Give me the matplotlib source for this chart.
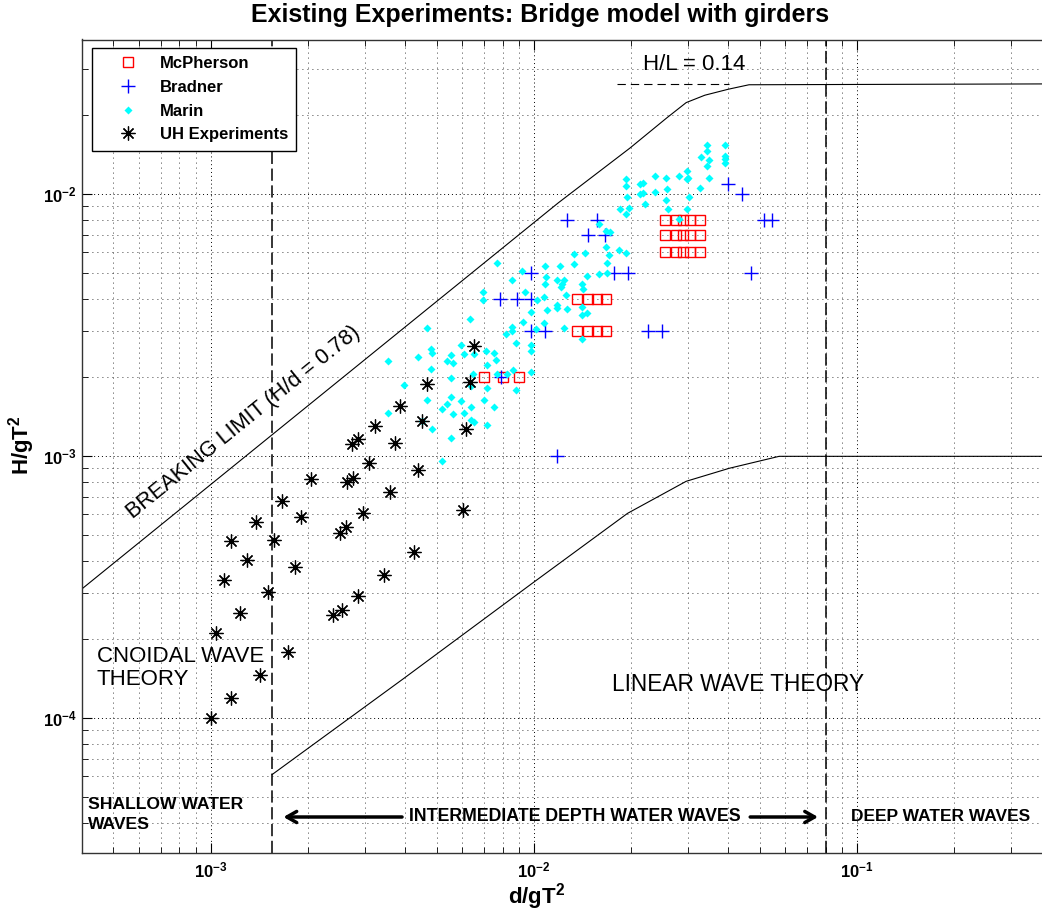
import math
import matplotlib
matplotlib.use('Agg')
import matplotlib.pyplot as plt
from matplotlib.ticker import FuncFormatter, NullFormatter, LogLocator

plt.rcParams['font.family'] = ['Liberation Sans', 'DejaVu Sans']
plt.rcParams['mathtext.fontset'] = 'custom'
plt.rcParams['mathtext.rm'] = 'Liberation Sans'
plt.rcParams['mathtext.bf'] = 'Liberation Sans:bold'
plt.rcParams['mathtext.it'] = 'Liberation Sans:italic'

# Breaking limit (H/d = 0.78 in shallow water, levelling off at H/L = 0.14)
break_x = [4e-4, 0.0119, 0.0198, 0.0258, 0.0296, 0.0338, 0.040, 0.0463, 0.4]
break_y = [3.12e-4, 9.28e-3, 0.0150, 0.0196, 0.0224, 0.0239, 0.0252, 0.0262, 0.0264]

# Lower bound of the linear wave theory region
linear_x = [1.55e-3, 3.96e-3, 9.8e-3, 0.0195, 0.0296, 0.0402, 0.0574, 0.4]
linear_y = [6.1e-5, 1.42e-4, 3.25e-4, 6.06e-4, 8.03e-4, 9.0e-4, 1.0e-3, 1.0e-3]

# Water depth limits (d/gT^2)
shallow_limit = 0.00155
deep_limit = 0.08

mcpherson_x = [7e-3, 8e-3, 9e-3,
               0.0136, 0.0147, 0.0157, 0.0167,
               0.0136, 0.0147, 0.0157, 0.0167,
               0.0255, 0.0275, 0.029, 0.0305, 0.0327,
               0.0255, 0.0275, 0.029, 0.0305, 0.0327,
               0.0255, 0.0275, 0.029, 0.0305, 0.0327]
mcpherson_y = [2e-3, 2e-3, 2e-3,
               4e-3, 4e-3, 4e-3, 4e-3,
               3e-3, 3e-3, 3e-3, 3e-3,
               6e-3, 6e-3, 6e-3, 6e-3, 6e-3,
               7e-3, 7e-3, 7e-3, 7e-3, 7e-3,
               8e-3, 8e-3, 8e-3, 8e-3, 8e-3]

bradner_x = [0.0399, 0.0441, 0.0127, 0.0157, 0.0515, 0.0546, 0.0147, 0.0166,
             9.8e-3, 0.0177, 0.0195, 0.0470, 7.85e-3, 8.86e-3, 9.8e-3,
             9.8e-3, 0.0108, 0.0225, 0.0249, 7.9e-3, 0.0118]
bradner_y = [0.011, 0.010, 8e-3, 8e-3, 8e-3, 8e-3, 7e-3, 7e-3,
             5e-3, 5e-3, 5e-3, 5e-3, 4e-3, 4e-3, 4e-3,
             3e-3, 3e-3, 3e-3, 3e-3, 2e-3, 1e-3]

marin_x = [
    3.53e-3, 4.37e-3, 4.80e-3, 4.83e-3, 4.80e-3, 5.38e-3, 5.53e-3, 5.61e-3, 5.94e-3, 6.07e-3,
    5.53e-3, 3.96e-3, 4.67e-3, 4.67e-3, 3.53e-3, 5.53e-3, 5.19e-3, 5.38e-3, 5.94e-3, 5.61e-3,
    6.07e-3, 4.83e-3, 5.53e-3, 5.19e-3, 4.50e-3, 6.34e-3,
    6.52e-3, 7.10e-3, 7.52e-3, 7.15e-3, 7.63e-3, 7.68e-3, 8.25e-3, 8.61e-3, 8.79e-3, 8.19e-3,
    8.55e-3, 9.25e-3, 6.47e-3, 7.15e-3, 8.79e-3, 6.38e-3, 7.00e-3, 7.52e-3, 6.38e-3, 6.52e-3,
    7.15e-3, 6.38e-3, 6.95e-3, 6.95e-3, 7.68e-3, 8.55e-3, 9.18e-3, 9.38e-3, 8.55e-3, 0.01014,
    0.01074, 9.79e-3, 0.01178, 9.79e-3, 9.79e-3, 9.79e-3, 0.01021, 0.01082, 0.01089, 0.01203,
    0.01330, 0.01439, 0.01330, 0.01082, 0.01178, 0.01239, 0.01222, 0.01213, 0.01409, 0.01419,
    0.01256, 0.01074, 0.01178, 0.01265, 0.01097, 0.01409, 0.01459, 0.01409, 0.01239, 0.01409,
    0.01589, 0.01459, 0.01683, 0.01683,
    0.01928, 0.01928, 0.01941, 0.01845, 0.01928, 0.01968, 0.01589, 0.01671, 0.01718, 0.01671,
    0.01833, 0.01928, 0.01706,
    0.0390, 0.03436, 0.03436, 0.0390, 0.0390, 0.0390, 0.03289, 0.03483, 0.03436, 0.02979,
    0.02999, 0.02812, 0.03483, 0.03266, 0.02564, 0.02371, 0.02582, 0.02371, 0.02173, 0.02128,
    0.02173, 0.02128, 0.03020, 0.02564, 0.02208, 0.02600, 0.02979, 0.02812, 0.02979]
marin_y = [
    2.31e-3, 2.39e-3, 2.56e-3, 2.47e-3, 2.15e-3, 2.32e-3, 2.43e-3, 2.28e-3, 2.65e-3, 2.45e-3,
    1.99e-3, 1.87e-3, 3.08e-3, 1.64e-3, 1.46e-3, 1.69e-3, 1.51e-3, 1.59e-3, 1.62e-3, 1.45e-3,
    1.46e-3, 1.27e-3, 1.17e-3, 9.57e-4, 1.37e-3, 3.33e-3,
    2.45e-3, 2.52e-3, 2.49e-3, 2.24e-3, 2.34e-3, 2.07e-3, 2.07e-3, 2.13e-3, 2.70e-3, 2.92e-3,
    3.13e-3, 3.27e-3, 2.06e-3, 1.82e-3, 1.79e-3, 1.54e-3, 1.64e-3, 1.54e-3, 1.38e-3, 1.35e-3,
    1.32e-3, 1.85e-3, 4.23e-3, 3.96e-3, 5.46e-3, 4.70e-3, 5.08e-3, 4.23e-3, 3.00e-3, 3.05e-3,
    3.24e-3, 3.57e-3, 3.67e-3, 2.67e-3, 2.52e-3, 2.09e-3, 3.94e-3, 5.31e-3, 4.82e-3, 5.31e-3,
    5.90e-3, 5.96e-3, 5.41e-3, 4.53e-3, 4.70e-3, 4.70e-3, 4.53e-3, 4.42e-3, 4.53e-3, 4.34e-3,
    4.12e-3, 4.05e-3, 3.77e-3, 3.64e-3, 3.61e-3, 3.71e-3, 3.52e-3, 3.45e-3, 3.08e-3, 2.80e-3,
    4.95e-3, 4.86e-3, 5.46e-3, 4.99e-3,
    0.01140, 0.01074, 9.75e-3, 8.77e-3, 8.45e-3, 8.85e-3, 7.68e-3, 7.23e-3, 7.16e-3, 6.28e-3,
    6.11e-3, 5.96e-3, 5.85e-3,
    0.01538, 0.01538, 0.01459, 0.01396, 0.01361, 0.01312, 0.01384, 0.01349, 0.01279, 0.01225,
    0.01151, 0.01172, 0.01151, 0.01054, 0.01151, 0.01172, 0.01045, 0.01018, 0.01102, 0.01091,
    0.01009, 0.01000, 9.75e-3, 9.48e-3, 9.16e-3, 8.77e-3, 8.77e-3, 8.04e-3, 0.01140]

uh_x = [6.52e-3, 4.67e-3, 6.34e-3, 3.85e-3, 4.50e-3, 6.16e-3, 3.22e-3, 2.85e-3, 2.73e-3, 3.71e-3,
        3.08e-3, 4.37e-3, 2.04e-3, 2.75e-3, 2.64e-3, 3.58e-3, 1.66e-3, 1.38e-3, 1.91e-3, 2.96e-3,
        6.03e-3, 1.16e-3, 1.57e-3, 2.62e-3, 2.51e-3, 1.30e-3, 1.83e-3, 4.25e-3, 1.10e-3, 1.50e-3,
        3.43e-3, 2.85e-3, 1.23e-3, 2.55e-3, 2.39e-3, 1.04e-3, 1.74e-3, 1.42e-3, 1.16e-3, 1.00e-3]
uh_y = [2.63e-3, 1.88e-3, 1.93e-3, 1.55e-3, 1.37e-3, 1.27e-3, 1.30e-3, 1.16e-3, 1.11e-3, 1.12e-3,
        9.4e-4, 8.9e-4, 8.2e-4, 8.3e-4, 7.96e-4, 7.29e-4, 6.73e-4, 5.60e-4, 5.85e-4, 6.06e-4,
        6.22e-4, 4.74e-4, 4.78e-4, 5.36e-4, 5.08e-4, 4.01e-4, 3.77e-4, 4.30e-4, 3.36e-4, 3.03e-4,
        3.51e-4, 2.92e-4, 2.52e-4, 2.58e-4, 2.47e-4, 2.11e-4, 1.79e-4, 1.46e-4, 1.20e-4, 1.00e-4]

fig = plt.figure(figsize=(10.42, 9.22), dpi=100)
# right spine sits just past the canvas edge
ax = fig.add_axes([82 / 1042, 68.6 / 922, 969.7 / 1042, 813.9 / 922])
ax.set_xscale('log')
ax.set_yscale('log')
ax.set_xlim(4e-4, 0.4)
ax.set_ylim(3.05e-5, 0.039)

# theory curves and depth limits
ax.plot(break_x, break_y, color='k', lw=0.8, zorder=2)
ax.plot(linear_x, linear_y, color='k', lw=0.8, zorder=2)
ax.plot([0.0181, 0.0402], [0.0264, 0.0264], color='k', lw=0.8, ls=(0, (7.5, 4.5)), zorder=2)
for xv in (shallow_limit, deep_limit):
    ax.axvline(xv, color='k', lw=1.1, ls=(0, (8, 3)), zorder=2)

# experiments
mc, = ax.plot(mcpherson_x, mcpherson_y, ls='none', marker='s', ms=7.3,
              mfc='none', mec='red', mew=1.0, zorder=3)
br, = ax.plot(bradner_x, bradner_y, ls='none', marker='+', ms=9.5,
              color='blue', mew=1.0, zorder=3.1)
ma, = ax.plot(marin_x, marin_y, ls='none', marker='D', ms=3.6,
              color='cyan', mec='none', zorder=3.2)
uh, = ax.plot(uh_x, uh_y, ls='none', marker=(8, 2, 0), ms=10,
              color='k', mew=0.9, zorder=3.3)
uh_dot, = ax.plot(uh_x, uh_y, ls='none', marker='o', ms=2.6,
                  color='k', zorder=3.3)

# annotations
ax.text(0.0313, 0.0314, 'H/L = 0.14', fontsize=16, ha='center', va='center', zorder=4)
ax.text(1.26e-3, 1.35e-3, 'BREAKING LIMIT (H/d = 0.78)', fontsize=15.6, rotation=39,
        rotation_mode='anchor', ha='center', va='center', zorder=4)
ax.text(4.45e-4, 1.56e-4, 'CNOIDAL WAVE\nTHEORY', fontsize=16, ha='left', va='center',
        linespacing=1.1, zorder=4)
ax.text(0.0175, 1.35e-4, 'LINEAR WAVE THEORY', fontsize=16.3, ha='left', va='center', zorder=4)
ax.text(4.18e-4, 4.3e-5, 'SHALLOW WATER\nWAVES', fontsize=12.6, fontweight='bold',
        ha='left', va='center', linespacing=1.45, zorder=4)
ax.text(0.0134, 4.2e-5, 'INTERMEDIATE DEPTH WATER WAVES', fontsize=12.8, fontweight='bold',
        ha='center', va='center', zorder=4)
ax.text(0.1815, 4.2e-5, 'DEEP WATER WAVES', fontsize=12.5, fontweight='bold',
        ha='center', va='center', zorder=4)
arrow = dict(arrowstyle='->, head_length=0.7, head_width=0.4', lw=2.5, color='k',
             shrinkA=0, shrinkB=0)
ax.annotate('', xy=(1.68e-3, 4.2e-5), xytext=(3.91e-3, 4.2e-5), arrowprops=arrow, zorder=4)
ax.annotate('', xy=(0.0757, 4.2e-5), xytext=(0.0467, 4.2e-5), arrowprops=arrow, zorder=4)

# grid and ticks
ax.grid(True, which='major', color='k', lw=0.7, ls=(0, (1, 3)))
ax.grid(True, which='minor', color='k', lw=0.6, ls=(0, (1, 5)))
ax.xaxis.set_minor_locator(LogLocator(base=10, subs=range(2, 10)))
ax.yaxis.set_minor_locator(LogLocator(base=10, subs=range(2, 10)))
ax.xaxis.set_minor_formatter(NullFormatter())
ax.yaxis.set_minor_formatter(NullFormatter())
pow_fmt = FuncFormatter(lambda v, pos: r'$\mathbf{10^{%d}}$' % round(math.log10(v)))
ax.xaxis.set_major_formatter(pow_fmt)
ax.yaxis.set_major_formatter(pow_fmt)
ax.tick_params(which='both', direction='in', top=True, right=True, labelsize=12)
ax.tick_params(which='major', length=7, width=0.8)
ax.tick_params(which='minor', length=4, width=0.6)
ax.tick_params(axis='x', which='major', pad=5)
ax.tick_params(axis='y', which='major', pad=4)
for sp in ax.spines.values():
    sp.set_linewidth(1.0)
    sp.set_color('#333333')

ax.set_xlabel(r'$\mathbf{d/gT^2}$', fontsize=16)
ax.set_ylabel(r'$\mathbf{H/gT^2}$', fontsize=16)
ax.xaxis.set_label_coords(0.469, -0.034)
ax.yaxis.set_label_coords(-0.046, 0.502)
fig.text(540 / 1042, 1 - 15 / 922, 'Existing Experiments: Bridge model with girders',
         fontsize=18, fontweight='bold', ha='center', va='center')

leg = ax.legend([mc, br, ma, (uh, uh_dot)],
                ['McPherson', 'Bradner', 'Marin', 'UH Experiments'],
                loc='upper left', bbox_to_anchor=(92 / 1042, 1 - 48 / 922),
                bbox_transform=fig.transFigure, borderaxespad=0, fancybox=False,
                framealpha=1, edgecolor='k', prop={'weight': 'bold', 'size': 12},
                handlelength=3.3, handletextpad=0.27, labelspacing=0.52, borderpad=0.5)
leg.get_frame().set_linewidth(1.0)
leg.set_zorder(5)

fig.savefig('out.png', dpi=100)
